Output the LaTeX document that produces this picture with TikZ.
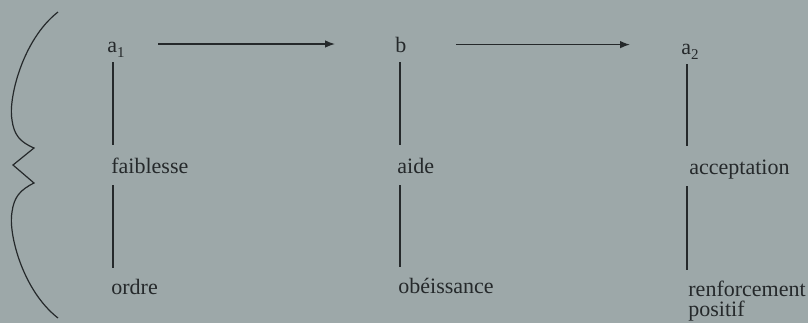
\documentclass[tikz,border=0pt]{standalone}
\usepackage{fontspec}
\setmainfont{Liberation Serif}
\usetikzlibrary{arrows.meta, positioning, calc}
\definecolor{cPaper}{HTML}{9DA8A9}
\definecolor{cInk}{HTML}{25292B}
\newcommand{\lowidx}[1]{\raisebox{-2.6pt}{\fontsize{7.5}{7.5}\selectfont #1}}

\begin{document}
\begin{tikzpicture}[
    x=0.5pt, y=-0.5pt,
    lbl/.style={inner sep=0pt, anchor=base west, text=cInk,
                font=\fontsize{11}{10}\selectfont, text height=7.5pt, text depth=2.5pt},
    lbl2/.style={inner sep=0pt, anchor=north west, text=cInk, align=left,
                 font=\fontsize{11}{9.8}\selectfont},
    ar/.style={-{Latex[length=5pt,width=3.8pt]}, line width=0.7pt, draw=cInk},
    upl/.style={line width=0.6pt, draw=cInk, shorten <=2.5pt, shorten >=6.5pt},
    lol/.style={line width=0.6pt, draw=cInk, shorten <=3.5pt, shorten >=5.5pt},
]
\useasboundingbox (0,0) rectangle (808,323);
\fill[cPaper] (0,0) rectangle (808,323);

% === columns ===
\coordinate (k1) at (113,0);
\coordinate (k2) at (400,0);
\coordinate (k3) at (687,0);

% === ROW 1: a1 -> b -> a2 ===
\node[lbl] (a1) at (107,52) {a\lowidx{1}};
\node[lbl] (b)  at (395,52) {b};
\node[lbl] (a2) at (681,54) {a\lowidx{2}};

\draw[ar, shorten <=16.5pt, shorten >=30pt] ([yshift=1.5pt]a1.east) -- ([yshift=1.5pt]b.west);
\draw[ar, shorten <=24.5pt, shorten >=25.5pt] ([yshift=1.2pt]b.east) -- ([yshift=1.2pt]b.east -| a2.west);

% === ROW 2 ===
\node[lbl] (fai) at (111,173) {faiblesse};
\node[lbl] (aid) at (397,173) {aide};
\node[lbl] (acc) at (689,174) {acceptation};

% === ROW 3 ===
\node[lbl]  (ord) at (111,294) {ordre};
\node[lbl]  (obe) at (398,293) {obéissance};
\node[lbl2] (ren) at (688,281) {renforcement\\positif};

% vertical links
\draw[upl] (a1.south -| k1) -- (fai.north -| k1);
\draw[lol] (fai.south -| k1) -- (ord.north -| k1);
\draw[upl] (b.south -| k2)  -- (aid.north -| k2);
\draw[lol] (aid.south -| k2) -- (obe.north -| k2);
\draw[upl] (a2.south -| k3) -- (acc.north -| k3);
\draw[lol] (acc.south -| k3) -- (ren.north -| k3);

% === brace ===
\draw[cInk, line width=0.6pt, line join=miter]
    (58,12) .. controls (22,40) and (8,100) .. (12,120)
    .. controls (14,135) and (20,142) .. (34,148)
    -- (13,165) -- (34,183)
    .. controls (20,190) and (14,197) .. (12,212)
    .. controls (8,232) and (22,290) .. (58,318);

\end{tikzpicture}
\end{document}
